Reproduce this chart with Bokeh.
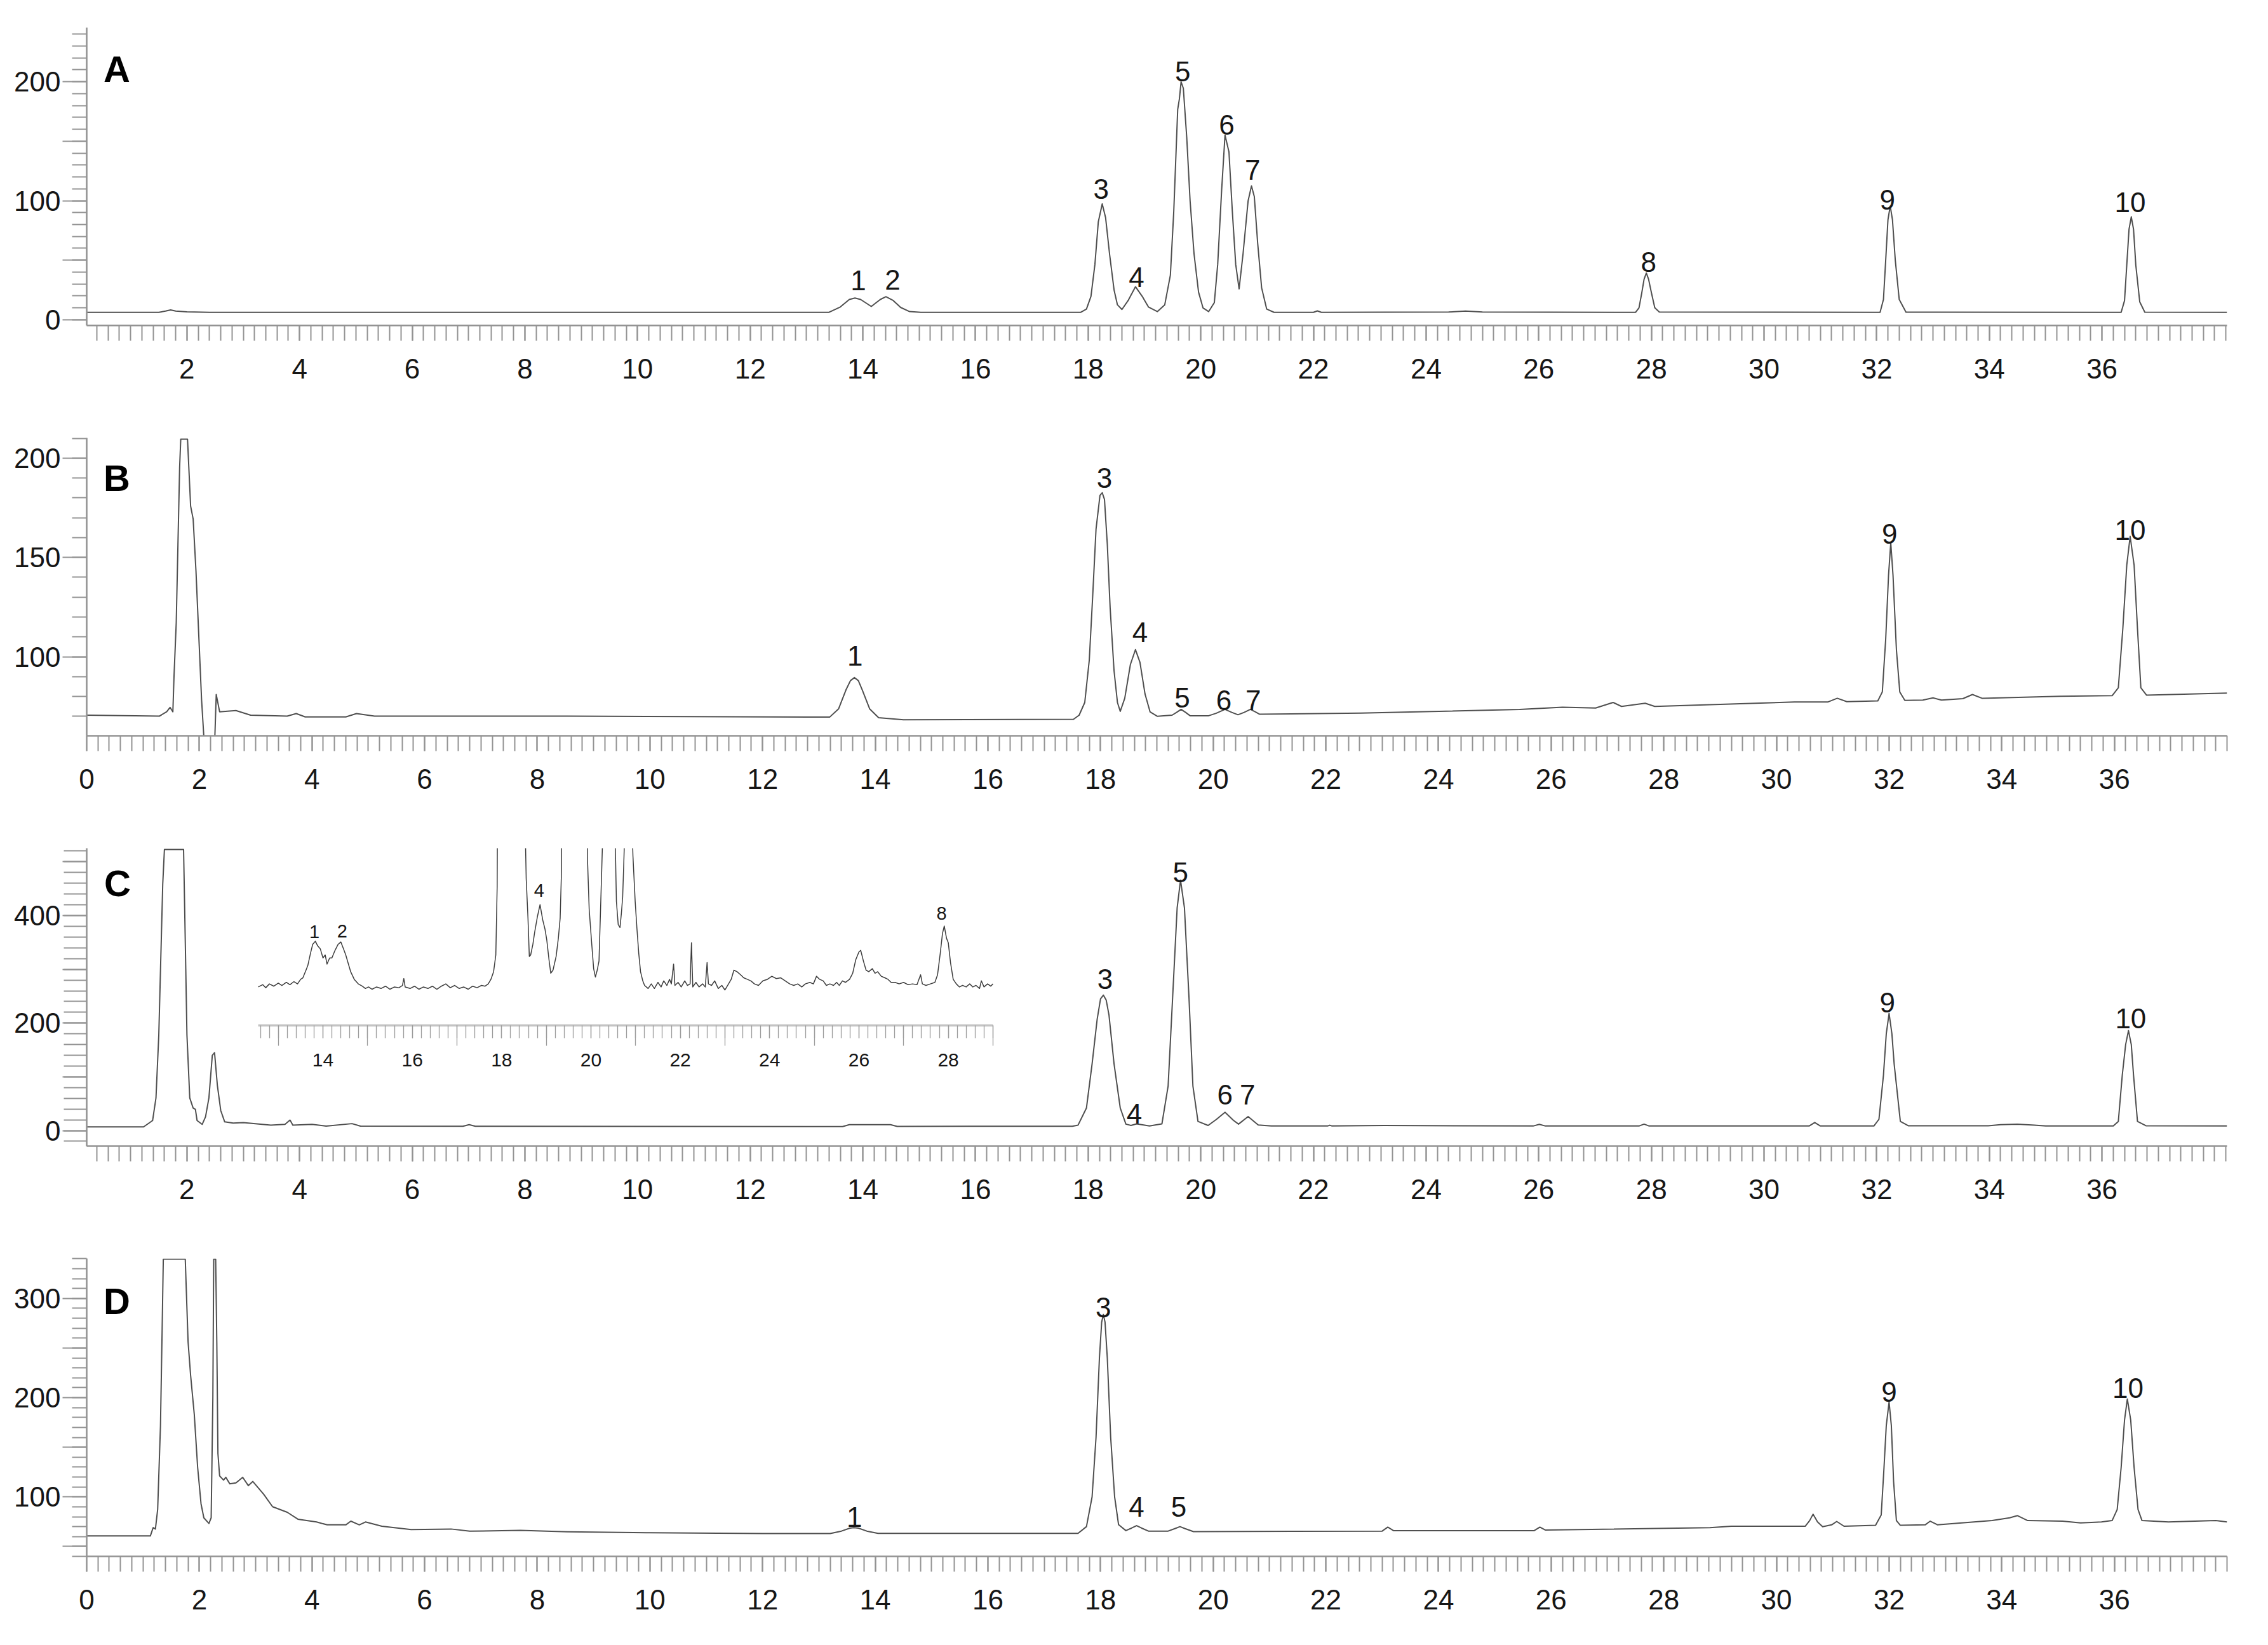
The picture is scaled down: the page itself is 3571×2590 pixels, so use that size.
import math
from bokeh.plotting import figure
from bokeh.models import Range1d, LinearAxis, FixedTicker
from bokeh.layouts import column
from bokeh.embed import file_html
from bokeh.resources import INLINE
from bokeh.core.properties import value

# ---------------- data (retention time in min, signal in mAU) ----------------
A_trace = [
    (0.22, 6.2), (1.5, 6.2), (1.62, 7.2), (1.71, 8.2), (1.8, 7.2), (2.0, 6.6), (2.4, 6.2),
    (13.4, 6.2), (13.6, 10.7), (13.76, 17.0), (13.86, 18.2), (13.96, 17.0), (14.15, 11.1),
    (14.31, 17.0), (14.41, 19.3), (14.54, 16.1), (14.67, 10.3), (14.83, 6.8), (15.03, 6.2),
    (17.87, 6.2), (17.97, 8.9), (18.05, 19.6), (18.12, 46.4), (18.18, 82.1), (18.25, 97.3),
    (18.31, 85.7), (18.38, 55.3), (18.46, 25.0), (18.52, 12.5), (18.6, 8.6), (18.71, 16.1),
    (18.84, 27.7), (18.96, 19.6), (19.07, 10.7), (19.23, 6.8), (19.36, 12.5), (19.46, 37.5),
    (19.52, 91.0), (19.59, 176.7), (19.62, 185.6), (19.65, 199.9), (19.69, 194.5),
    (19.75, 153.5), (19.81, 99.9), (19.88, 55.3), (19.96, 23.2), (20.04, 9.8), (20.14, 6.8),
    (20.24, 14.3), (20.3, 46.4), (20.37, 108.9), (20.43, 155.2), (20.5, 141.0), (20.56, 91.0),
    (20.62, 46.4), (20.68, 25.9), (20.75, 55.3), (20.84, 99.9), (20.9, 112.4), (20.95, 103.5),
    (21.01, 64.2), (21.08, 26.8), (21.17, 8.9), (21.3, 6.2), (22.0, 6.2), (22.07, 7.4),
    (22.14, 6.2), (24.4, 6.4), (24.7, 7.2), (25.0, 6.4), (27.72, 6.2), (27.78, 10.0),
    (27.83, 22.7), (27.87, 34.0), (27.91, 39.2), (27.95, 34.0), (28.0, 22.7), (28.06, 10.0),
    (28.14, 6.4), (32.06, 6.2), (32.12, 17.0), (32.16, 50.0), (32.2, 84.0), (32.24, 95.5),
    (32.28, 84.0), (32.33, 50.0), (32.4, 17.0), (32.52, 6.3), (36.34, 6.2), (36.4, 16.0),
    (36.44, 46.0), (36.48, 76.0), (36.52, 86.5), (36.56, 76.0), (36.6, 46.0), (36.67, 15.0),
    (36.76, 6.3), (38.22, 6.2),
]

B_trace = [
    (0.0, 70.6), (1.29, 70.1), (1.42, 72.3), (1.48, 74.5), (1.53, 72.3), (1.55, 89.9),
    (1.59, 117.3), (1.62, 156.4), (1.65, 195.5), (1.67, 209.6), (1.79, 209.6), (1.845, 175.9),
    (1.89, 169.4), (1.94, 143.3), (1.99, 110.7), (2.04, 78.2), (2.09, 55.0), (2.27, 55.0),
    (2.3, 81.0), (2.36, 72.3), (2.5, 72.6), (2.65, 72.9), (2.91, 70.6), (3.56, 70.1),
    (3.72, 71.4), (3.88, 69.7), (4.6, 69.7), (4.79, 71.4), (5.11, 70.1), (8.53, 70.1),
    (13.19, 69.6), (13.35, 73.8), (13.48, 83.3), (13.56, 88.0), (13.63, 89.5), (13.7, 88.0),
    (13.77, 83.3), (13.9, 73.8), (14.06, 69.3), (14.5, 68.3), (17.52, 68.5), (17.62, 70.6),
    (17.72, 77.0), (17.8, 98.3), (17.86, 130.2), (17.92, 164.3), (17.99, 181.3), (18.03, 182.6),
    (18.07, 179.2), (18.12, 156.8), (18.17, 124.9), (18.24, 92.9), (18.3, 77.0), (18.35, 72.5),
    (18.43, 79.1), (18.53, 96.1), (18.62, 103.6), (18.7, 97.2), (18.79, 81.2), (18.88, 72.2),
    (19.01, 70.0), (19.27, 70.6), (19.35, 72.0), (19.43, 73.5), (19.51, 72.0), (19.59, 70.3),
    (19.92, 70.3), (20.05, 71.5), (20.21, 73.5), (20.33, 72.0), (20.44, 70.8), (20.55, 72.0),
    (20.66, 73.5), (20.75, 72.2), (20.82, 71.1), (22.62, 71.6), (25.44, 73.5), (26.2, 74.6),
    (26.79, 74.2), (27.1, 77.0), (27.25, 75.0), (27.67, 76.6), (27.84, 75.0), (30.32, 77.2),
    (30.91, 77.2), (31.08, 79.1), (31.25, 77.4), (31.8, 77.8), (31.88, 82.3), (31.94, 108.9),
    (31.99, 140.9), (32.03, 157.4), (32.07, 140.9), (32.13, 103.6), (32.19, 82.3), (32.28, 78.0),
    (32.6, 78.2), (32.78, 79.3), (32.93, 78.2), (33.31, 78.9), (33.48, 81.0), (33.65, 79.1),
    (35.04, 80.1), (35.96, 80.4), (36.07, 84.4), (36.15, 114.2), (36.22, 146.2), (36.28, 160.6),
    (36.35, 146.2), (36.41, 114.2), (36.47, 84.4), (36.57, 80.7), (38.0, 81.7),
]

C_trace = [
    (0.22, 6.9), (1.23, 6.9), (1.39, 18.6), (1.45, 60.7), (1.5, 177.6), (1.535, 318.0),
    (1.57, 458.0), (1.6, 523.0), (1.94, 523.0), (1.96, 411.0), (2.0, 177.6), (2.05, 60.7),
    (2.11, 41.9), (2.15, 39.6), (2.18, 18.6), (2.27, 11.5), (2.33, 25.6), (2.39, 60.7),
    (2.45, 140.0), (2.49, 144.9), (2.54, 84.1), (2.6, 37.3), (2.67, 16.2), (2.82, 13.9),
    (3.0, 14.8), (3.49, 10.1), (3.74, 11.5), (3.83, 19.5), (3.88, 10.1), (4.22, 11.5),
    (4.47, 8.3), (4.93, 12.9), (5.08, 8.3), (6.9, 8.0), (7.01, 11.0), (7.12, 8.0),
    (13.64, 7.5), (13.76, 11.0), (14.49, 11.0), (14.61, 7.8), (17.72, 8.0), (17.82, 10.0),
    (17.97, 42.0), (18.07, 124.0), (18.16, 207.0), (18.22, 245.0), (18.27, 252.0),
    (18.32, 243.0), (18.37, 215.0), (18.46, 124.0), (18.57, 42.0), (18.67, 12.0), (18.76, 9.5),
    (18.86, 12.5), (19.09, 8.5), (19.31, 12.5), (19.42, 83.0), (19.5, 248.0), (19.58, 414.0),
    (19.64, 466.0), (19.71, 414.0), (19.79, 248.0), (19.86, 83.0), (19.95, 17.0), (20.13, 9.5),
    (20.28, 21.0), (20.43, 34.0), (20.58, 19.0), (20.67, 12.0), (20.84, 26.0), (21.02, 10.5),
    (21.25, 8.5), (22.25, 8.5), (22.29, 10.0), (22.33, 8.5), (23.26, 9.5), (25.9, 8.5),
    (26.01, 11.5), (26.12, 8.5), (27.78, 8.5), (27.87, 12.0), (27.96, 8.5), (30.8, 8.5),
    (30.9, 15.0), (31.0, 8.5), (31.95, 8.5), (32.04, 21.0), (32.12, 103.0), (32.17, 180.0),
    (32.22, 218.0), (32.27, 180.0), (32.31, 124.0), (32.42, 17.0), (32.56, 9.0), (33.98, 9.0),
    (34.2, 11.0), (34.5, 12.0), (34.8, 10.0), (35.0, 8.5), (36.2, 8.5), (36.29, 17.0),
    (36.36, 103.0), (36.42, 160.0), (36.47, 186.0), (36.52, 160.0), (36.56, 103.0),
    (36.63, 17.0), (36.78, 9.0), (38.22, 8.5),
]

# inset of C: magnified signal (mAU) between 12.5 and 29 min
C_inset_trace = [
    (12.55, 7.4), (12.65, 7.55), (12.72, 7.35), (12.8, 7.6), (12.9, 7.45), (13.0, 7.65),
    (13.08, 7.5), (13.18, 7.7), (13.26, 7.55), (13.35, 7.75), (13.43, 7.6), (13.5, 7.9),
    (13.55, 8.0), (13.62, 8.5), (13.66, 8.8), (13.72, 9.6), (13.77, 10.2), (13.83, 10.4),
    (13.88, 10.1), (13.94, 9.9), (14.0, 9.3), (14.05, 9.5), (14.09, 8.9), (14.15, 9.3),
    (14.2, 9.3), (14.27, 9.8), (14.34, 10.2), (14.4, 10.35), (14.46, 9.9), (14.51, 9.5),
    (14.57, 8.9), (14.62, 8.4), (14.7, 7.9), (14.79, 7.6), (14.88, 7.45), (14.95, 7.3),
    (15.02, 7.4), (15.1, 7.25), (15.2, 7.4), (15.3, 7.3), (15.4, 7.45), (15.5, 7.25),
    (15.6, 7.4), (15.7, 7.35), (15.78, 7.5), (15.81, 7.95), (15.84, 7.4), (15.95, 7.3),
    (16.05, 7.45), (16.15, 7.25), (16.25, 7.4), (16.35, 7.3), (16.45, 7.45), (16.55, 7.25),
    (16.65, 7.45), (16.75, 7.6), (16.85, 7.35), (16.95, 7.5), (17.05, 7.3), (17.15, 7.4),
    (17.25, 7.25), (17.35, 7.45), (17.45, 7.35), (17.55, 7.5), (17.63, 7.45), (17.7, 7.6),
    (17.76, 7.9), (17.82, 8.4), (17.87, 9.5), (17.9, 14.0), (18.27, 252.0), (18.5, 22.0),
    (18.55, 14.5), (18.59, 11.9), (18.62, 9.4), (18.65, 9.5), (18.7, 10.2), (18.74, 11.0),
    (18.8, 12.0), (18.86, 12.8), (18.92, 11.8), (18.97, 11.2), (19.01, 10.5), (19.06, 9.2),
    (19.1, 8.3), (19.15, 8.5), (19.22, 9.4), (19.27, 10.6), (19.31, 11.9), (19.34, 15.0),
    (19.64, 466.0), (19.92, 16.0), (19.96, 12.5), (20.01, 10.5), (20.06, 8.6), (20.1, 8.05),
    (20.14, 8.5), (20.18, 9.1), (20.22, 13.0), (20.43, 34.0), (20.57, 13.0), (20.61, 11.5),
    (20.65, 11.3), (20.68, 12.2), (20.71, 13.3), (20.74, 16.0), (20.84, 26.0), (20.94, 16.0),
    (20.99, 13.0), (21.03, 11.2), (21.07, 9.6), (21.11, 8.4), (21.16, 7.8), (21.2, 7.5),
    (21.28, 7.3), (21.35, 7.6), (21.42, 7.3), (21.5, 7.7), (21.57, 7.4), (21.63, 7.8),
    (21.7, 7.5), (21.76, 7.9), (21.8, 7.6), (21.85, 8.9), (21.88, 7.5), (21.95, 7.7),
    (22.02, 7.4), (22.1, 7.8), (22.16, 7.5), (22.22, 7.6), (22.25, 10.3), (22.28, 7.4),
    (22.35, 7.7), (22.42, 7.4), (22.5, 7.6), (22.56, 7.4), (22.6, 9.0), (22.63, 7.6),
    (22.7, 7.5), (22.77, 7.8), (22.85, 7.3), (22.93, 7.5), (23.0, 7.2), (23.08, 7.6),
    (23.14, 7.9), (23.2, 8.5), (23.27, 8.4), (23.35, 8.2), (23.42, 8.0), (23.5, 7.9),
    (23.58, 7.8), (23.66, 7.6), (23.75, 7.5), (23.85, 7.8), (23.95, 7.9), (24.05, 8.1),
    (24.15, 7.95), (24.25, 8.0), (24.35, 7.8), (24.45, 7.6), (24.54, 7.5), (24.63, 7.6),
    (24.72, 7.4), (24.8, 7.6), (24.9, 7.7), (24.98, 7.6), (25.05, 8.1), (25.12, 7.9),
    (25.2, 7.8), (25.27, 7.5), (25.35, 7.6), (25.43, 7.5), (25.5, 7.7), (25.56, 7.5),
    (25.63, 7.8), (25.7, 7.7), (25.79, 7.9), (25.86, 8.3), (25.93, 9.2), (26.0, 9.7),
    (26.04, 9.8), (26.1, 9.1), (26.16, 8.5), (26.22, 8.4), (26.3, 8.6), (26.36, 8.3),
    (26.42, 8.4), (26.5, 8.1), (26.58, 8.0), (26.65, 7.9), (26.72, 7.7), (26.81, 7.7),
    (26.9, 7.6), (27.0, 7.7), (27.1, 7.55), (27.2, 7.6), (27.3, 7.55), (27.38, 8.2),
    (27.42, 7.6), (27.5, 7.5), (27.6, 7.6), (27.7, 7.7), (27.76, 8.2), (27.82, 9.6),
    (27.87, 10.9), (27.91, 11.4), (27.96, 10.6), (28.0, 10.3), (28.05, 9.0), (28.11, 7.9),
    (28.18, 7.6), (28.25, 7.4), (28.32, 7.5), (28.4, 7.4), (28.48, 7.6), (28.55, 7.4),
    (28.62, 7.5), (28.7, 7.3), (28.74, 7.8), (28.8, 7.4), (28.88, 7.6), (28.95, 7.45),
    (29.0, 7.6),
]

D_trace = [
    (0.0, 60.6), (1.13, 60.6), (1.18, 69.0), (1.22, 67.6), (1.26, 87.3), (1.31, 171.8),
    (1.34, 270.4), (1.36, 339.5), (1.75, 339.5), (1.8, 256.3), (1.845, 222.5), (1.91, 183.1),
    (1.97, 129.6), (2.03, 93.0), (2.08, 78.9), (2.17, 73.2), (2.21, 78.9), (2.24, 200.0),
    (2.255, 339.5), (2.29, 339.5), (2.31, 256.3), (2.33, 143.7), (2.36, 121.1), (2.43, 116.9),
    (2.47, 119.7), (2.54, 113.2), (2.65, 114.1), (2.77, 119.7), (2.87, 111.3), (2.95, 115.5),
    (3.14, 102.8), (3.3, 90.1), (3.56, 84.5), (3.75, 77.5), (4.08, 74.7), (4.27, 71.8),
    (4.6, 71.8), (4.69, 75.5), (4.84, 71.8), (4.95, 74.7), (5.24, 70.4), (5.76, 67.1),
    (6.47, 67.6), (6.8, 65.4), (7.7, 66.2), (8.53, 64.8), (10.0, 63.8), (12.0, 63.0),
    (13.2, 63.0), (13.4, 65.5), (13.55, 68.5), (13.62, 69.0), (13.7, 68.5), (13.85, 65.5),
    (14.05, 63.2), (17.6, 63.2), (17.75, 70.0), (17.85, 100.0), (17.92, 160.0), (17.98, 240.0),
    (18.02, 276.0), (18.05, 283.8), (18.08, 276.0), (18.12, 240.0), (18.18, 160.0),
    (18.25, 100.0), (18.32, 72.0), (18.45, 66.0), (18.55, 68.5), (18.64, 71.0), (18.73, 68.5),
    (18.85, 65.5), (19.2, 65.5), (19.32, 68.0), (19.41, 70.0), (19.5, 68.0), (19.65, 65.0),
    (23.0, 65.5), (23.1, 69.5), (23.2, 66.0), (25.7, 66.0), (25.8, 69.5), (25.9, 66.5),
    (28.82, 69.0), (29.2, 70.4), (30.51, 70.4), (30.59, 76.1), (30.65, 82.5), (30.73, 74.7),
    (30.82, 69.9), (30.98, 71.8), (31.07, 75.2), (31.2, 70.4), (31.76, 71.3), (31.86, 81.7),
    (31.91, 129.6), (31.95, 171.8), (32.0, 195.7), (32.04, 171.8), (32.08, 115.5),
    (32.13, 76.1), (32.2, 71.3), (32.64, 71.8), (32.73, 75.5), (32.86, 71.8), (33.83, 76.1),
    (34.14, 78.9), (34.28, 81.1), (34.46, 76.1), (35.08, 75.5), (35.4, 73.8), (35.77, 74.7),
    (35.96, 76.1), (36.05, 87.3), (36.12, 129.6), (36.18, 177.4), (36.23, 198.6),
    (36.29, 177.4), (36.35, 129.6), (36.42, 87.3), (36.49, 76.1), (36.96, 74.7), (37.8, 76.1),
    (38.0, 74.7),
]

# peak numbers: (label, retention time, signal level just under the label)
A_peaks = [("1", 13.92, 33.0), ("2", 14.53, 33.5), ("3", 18.23, 109.7), ("4", 18.86, 35.7),
           ("5", 19.68, 208.8), ("6", 20.46, 163.8), ("7", 20.92, 125.8), ("8", 27.95, 48.5),
           ("9", 32.19, 100.8), ("10", 36.50, 98.5)]
B_peaks = [("1", 13.64, 100.6), ("3", 18.07, 190.1), ("4", 18.7, 112.3), ("5", 19.45, 79.3),
           ("6", 20.19, 78.2), ("7", 20.71, 78.2), ("9", 32.01, 161.9), ("10", 36.28, 163.8)]
C_peaks = [("3", 18.3, 282.0), ("4", 18.82, 31.0), ("5", 19.64, 480.0), ("6", 20.43, 67.0),
           ("7", 20.83, 67.0), ("9", 32.19, 238.0), ("10", 36.51, 209.0)]
C_inset_peaks = [("1", 13.81, 11.04), ("2", 14.43, 11.07), ("4", 18.84, 13.75), ("8", 27.85, 12.22)]
D_peaks = [("1", 13.63, 79.7), ("3", 18.05, 291.0), ("4", 18.64, 90.0), ("5", 19.39, 90.0),
           ("9", 32.0, 205.6), ("10", 36.24, 209.8)]

# tick labels
A_yticks = [0, 50, 100, 150, 200]
A_ylabels = [0, 100, 200]
B_yticks = [100, 150, 200]
B_ylabels = [100, 150, 200]
C_yticks = [0, 100, 200, 300, 400, 500]
C_ylabels = [0, 200, 400]
D_yticks = [50, 100, 150, 200, 250, 300]
D_ylabels = [100, 200, 300]
x_labels_from0 = list(range(0, 37, 2))
x_labels_from2 = list(range(2, 37, 2))
inset_x_labels = list(range(14, 29, 2))

# ---------------- styling / layout ----------------
FONT = "Liberation Sans"
AXC = "#939393"
INK = "#161616"
LINEC = "#4f4f4f"
FRAME_W = 3370
FRAME_H = 469


def steps(a, b, d):
    n0 = math.ceil(a / d - 1e-9)
    n1 = math.floor(b / d + 1e-9)
    return [round(i * d, 2) for i in range(n0, n1 + 1)]


def style_axis(ax, t_major, t_minor, fsize, standoff, line=True, lw=2.0, lc=AXC):
    ax.axis_line_color = lc if line else None
    ax.axis_line_width = 2.6
    ax.major_tick_line_color = lc
    ax.major_tick_line_width = lw
    ax.minor_tick_line_color = lc
    ax.minor_tick_line_width = lw
    ax.major_tick_in = 0
    ax.minor_tick_in = 0
    ax.major_tick_out = t_major
    ax.minor_tick_out = t_minor
    ax.major_label_text_font = FONT
    ax.major_label_text_font_size = fsize
    ax.major_label_text_color = INK
    ax.major_label_standoff = standoff


def panel(trace, xr, yr, ymajor, ylabeled, ystep, yminor_len, xlabels, xlong, letter,
          letter_xy, peaks, border_bottom):
    p = figure(frame_width=FRAME_W, frame_height=FRAME_H,
               x_range=Range1d(*xr), y_range=Range1d(*yr),
               output_backend="svg", toolbar_location=None,
               x_axis_location=None, y_axis_location=None,
               min_border_left=136, min_border_right=30, min_border_top=43,
               min_border_bottom=border_bottom)
    p.outline_line_color = None
    p.grid.grid_line_color = None
    p.background_fill_color = "white"
    p.border_fill_color = "white"

    p.line([t for t, _ in trace], [v for _, v in trace], line_color=LINEC,
           line_width=2.0, line_join="round")

    yminor = steps(yr[0], yr[1], ystep)
    yax = LinearAxis(ticker=FixedTicker(ticks=ymajor, minor_ticks=yminor),
                     major_label_overrides={t: "" for t in ymajor if t not in ylabeled})
    style_axis(yax, 38, yminor_len, "44px", 3)
    p.add_layout(yax, "left")

    xax = LinearAxis(ticker=FixedTicker(ticks=xlabels, minor_ticks=steps(xr[0], xr[1], 0.2)))
    style_axis(xax, 24, 24, "44px", 28)
    p.add_layout(xax, "below")

    xlong_ax = LinearAxis(ticker=FixedTicker(ticks=xlong, minor_ticks=[]),
                          fixed_location=yr[0],
                          major_label_overrides={t: "" for t in xlong})
    style_axis(xlong_ax, 40, 0, "10px", 0, line=False)
    p.add_layout(xlong_ax, "below")

    p.text(x=[letter_xy[0]], y=[letter_xy[1]], text=[letter], text_font=value(FONT),
           text_font_size="58px", text_font_style="bold", text_color="#000000",
           text_align="left", text_baseline="alphabetic")

    p.text(x=[q[1] for q in peaks], y=[q[2] for q in peaks], text=[q[0] for q in peaks],
           text_font=value(FONT), text_font_size="44px", text_color=INK,
           text_align="center", text_baseline="alphabetic")
    return p


odd_ticks = list(range(1, 38, 2))

pA = panel(A_trace, (0.22, 38.22), (-4.9, 245.5), A_yticks, A_ylabels, 10, 23,
           x_labels_from2, odd_ticks, "A", (0.52, 210.6), A_peaks, 134)
pB = panel(B_trace, (0.0, 38.0), (60.2, 210.2), B_yticks, B_ylabels, 10, 23,
           x_labels_from0, [0] + odd_ticks + [38], "B", (0.30, 190.2), B_peaks, 134)
pC = panel(C_trace, (0.22, 38.22), (-28.9, 525.3), C_yticks, C_ylabels, 20, 36,
           x_labels_from2, odd_ticks, "C", (0.53, 460.8), C_peaks, 134)
pD = panel(D_trace, (0.0, 38.0), (40.0, 340.2), D_yticks, D_ylabels, 10, 23,
           x_labels_from0, [0] + odd_ticks + [38], "D", (0.30, 297.1), D_peaks, 100)

# ---- inset in panel C (own scales mapped over the same frame) ----
pC.extra_x_ranges = {"ix": Range1d(8.71, 56.63)}
pC.extra_y_ranges = {"iy": Range1d(-3.04, 16.5)}
pC.line([t for t, _ in C_inset_trace], [v for _, v in C_inset_trace],
        x_range_name="ix", y_range_name="iy", line_color="#3c3c3c", line_width=1.5,
        line_join="round")
pC.text(x=[q[1] for q in C_inset_peaks], y=[q[2] for q in C_inset_peaks],
        text=[q[0] for q in C_inset_peaks], x_range_name="ix", y_range_name="iy",
        text_font=value(FONT), text_font_size="29px", text_color=INK,
        text_align="center", text_baseline="alphabetic")
INSET_AXIS_Y = 4.86
INSET_BOUNDS = (12.55, 29.0)
iax = LinearAxis(x_range_name="ix", y_range_name="iy", fixed_location=INSET_AXIS_Y,
                 bounds=INSET_BOUNDS,
                 ticker=FixedTicker(ticks=inset_x_labels,
                                    minor_ticks=steps(INSET_BOUNDS[0], INSET_BOUNDS[1], 0.2)))
style_axis(iax, 20, 20, "30px", 24, lw=1.3, lc="#9a9a9a")
iax.axis_line_color = "#c4c4c4"
iax.axis_line_width = 3.5
pC.add_layout(iax, "below")
ilong = LinearAxis(x_range_name="ix", y_range_name="iy", fixed_location=INSET_AXIS_Y,
                   bounds=INSET_BOUNDS,
                   ticker=FixedTicker(ticks=list(range(13, 30, 2)), minor_ticks=[]),
                   major_label_overrides={t: "" for t in range(13, 30, 2)})
style_axis(ilong, 32, 0, "10px", 0, line=False, lw=1.3, lc="#9a9a9a")
pC.add_layout(ilong, "below")

layout = column(pA, pB, pC, pD, spacing=0)
html = file_html(layout, INLINE, title="Chromatograms")
with open("out.html", "w") as f:
    f.write(html)
